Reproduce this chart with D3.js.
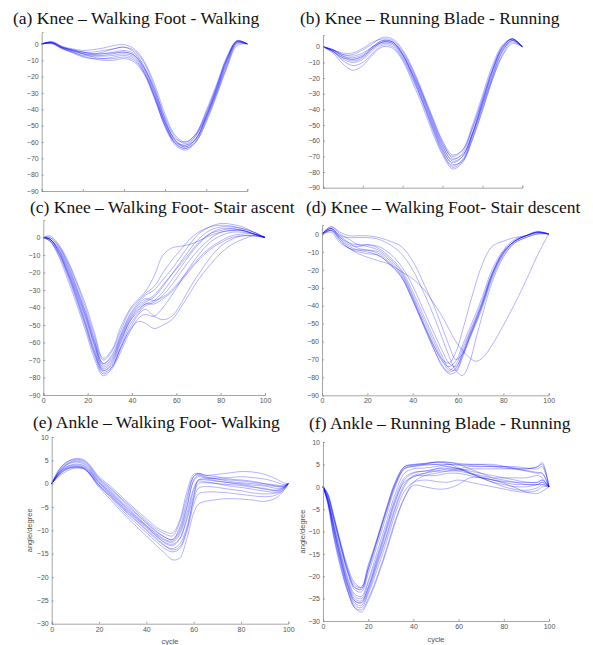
<!DOCTYPE html>
<html><head><meta charset="utf-8">
<script src="https://cdn.jsdelivr.net/npm/d3@7"></script>
<style>body{margin:0;background:#fff}svg{display:block}</style>
</head><body>
<svg id="chart" width="593" height="645"></svg>
<script>
// ---------- data ----------
const cycle5 = [0,5,10,15,20,25,30,35,40,45,50,55,60,65,70,75,80,85,90,95,100];
const cycleC = [0,3,7,11,15,19,23,27,31,35,39,43,46,50,54,58,62,66,70,75,80,85,90,95,100];
const cycleD = [0,4,8,12,16,20,25,30,35,40,45,50,53,56,59,62,65,68,71,75,80,85,90,95,100];
const cycleE = [0,3,6,10,14,20,25,30,35,40,45,48,51,54,57,60,62,65,70,75,80,85,90,95,98,100];
const cycleF = [0,2,5,8,11,14,17,20,24,28,32,36,40,45,50,55,60,65,70,75,80,85,90,95,97,100];

// (a) Knee – Walking Foot - Walking
const kneeWalkFootWalking = [
  [0,1.5,-1.5,-3,-4,-3.5,-2.5,-1,-0.5,-3,-11,-25,-43,-56,-60,-55,-41,-25,-8,2,0],
  [0,1,-2,-4,-5,-5,-4,-3,-2,-5,-14,-29,-47,-59,-62,-56,-43,-27,-10,1.5,0],
  [0,0.5,-2.5,-4.5,-6,-6.5,-6,-5,-4,-6,-15,-30,-48,-60,-63,-58,-45,-29,-12,1,0],
  [0,0.5,-3,-5,-7,-7.5,-7,-6,-5,-7,-16,-31,-49,-61,-64,-59,-46,-30,-13,0.5,0],
  [0,0,-3,-5.5,-8,-9,-9,-8,-7,-9,-18,-33,-51,-62,-65,-60,-47,-31,-14,0,0],
  [0,0.5,-2.5,-5,-7.5,-9,-10,-10,-9,-11,-19,-34,-50,-60,-62,-58,-45,-29,-11,1,0],
  [0,1,-2,-4,-6,-7,-7.5,-7,-6,-8,-17,-32,-48,-58,-60,-55,-42,-26,-9,1.5,0],
  [0,1,-2,-3.5,-5,-6,-6,-5.5,-5,-7,-15,-28,-45,-57,-61,-56,-44,-28,-10,2,0],
  [0,0.5,-2.5,-4,-6,-8,-9,-9,-8,-10,-18,-33,-50,-61,-64,-60,-48,-32,-15,-1,0],
  [0,1,-2,-3.5,-5,-6,-5,-3,-2,-4,-12,-27,-46,-59,-63,-58,-44,-27,-9,1.5,0]
];
// (b) Knee – Running Blade - Running
const kneeRunBladeRunning = [
  [0,-2,-5,-6,-4,0,3,2,-5,-17,-31,-47,-62,-70,-66,-50,-31,-12,1,5,0],
  [0,-2,-6,-8,-6,-1,3,2,-6,-18,-33,-49,-64,-72,-68,-52,-33,-14,0,5,0],
  [0,-3,-8,-10,-8,-2,2,1,-7,-20,-35,-51,-66,-74,-70,-55,-36,-17,-2,4,0],
  [0,-3,-9,-12,-10,-4,1,0,-8,-21,-36,-53,-68,-76,-72,-57,-38,-19,-3,4,0],
  [0,-4,-11,-15,-12,-5,0,-1,-9,-23,-38,-55,-69,-78,-74,-59,-41,-21,-5,3,0],
  [0,-2,-4,-4,-1,3,5,4,-3,-15,-30,-46,-61,-71,-69,-56,-38,-19,-3,4,0],
  [0,-2,-5,-5,-2,2,6,5,-2,-14,-29,-45,-60,-69,-66,-52,-34,-15,-1,5,0],
  [0,-3,-7,-9,-7,-1,3,3,-5,-18,-33,-50,-65,-75,-73,-59,-40,-21,-6,2,0],
  [0,-2,-6,-7,-5,0,4,3,-4,-16,-31,-48,-63,-73,-70,-55,-36,-16,-1,5,0],
  [0,-3,-7,-8,-6,0,4,3,-5,-19,-35,-52,-67,-77,-73,-56,-35,-15,0,5,0]
];
// (c) Knee – Walking Foot- Stair ascent
const kneeStairAscent = [
  [0,1,-4,-13,-25,-38,-54,-69,-64,-51,-41,-35,-31,-22,-10,-6,-5,-4,-2,1,3,4,4,2,0],
  [0,0,-5,-15,-28,-42,-58,-72,-67,-55,-44,-37,-33,-30,-24,-18,-11,-4,2,6,8,7.5,6,3,0],
  [0,-1,-7,-18,-31,-45,-61,-74,-70,-58,-47,-40,-37,-34,-28,-21,-14,-7,-1,4,6,6,5,3,0],
  [0,-1,-8,-20,-33,-48,-64,-76,-72,-60,-48,-41,-38,-36,-31,-24,-17,-10,-4,2,4,5,4,2,0],
  [0,-2,-10,-22,-36,-51,-67,-78,-74,-62,-50,-43,-39,-37,-33,-27,-20,-13,-7,-1,3,4,4,2,0],
  [0,-2,-11,-24,-38,-53,-69,-79,-75,-65,-54,-46,-44,-45,-40,-33,-25,-17,-10,-3,1,3,3,2,0],
  [0,-1,-9,-21,-35,-50,-66,-77,-74,-63,-53,-48,-49,-52,-50,-47,-40,-32,-24,-16,-9,-4,-1,1,0],
  [0,-1,-6,-16,-29,-43,-59,-72,-68,-56,-45,-38,-35,-36,-34,-30,-24,-18,-12,-6,-2,1,2,2,0],
  [0,0,-5,-14,-26,-40,-56,-70,-65,-53,-42,-36,-32,-28,-20,-13,-7,-1,3,6,7,6.5,5,3,0],
  [0,-2,-9,-20,-34,-49,-65,-76,-73,-63,-52,-44,-41,-45,-47,-45,-38,-29,-21,-12,-5,-1,1,1,0],
  [0,-1,-7,-17,-30,-44,-60,-73,-69,-57,-46,-39,-36,-33,-27,-21,-15,-9,-3,2,5,5,4,2,0],
  [0,-1,-8,-19,-32,-46,-62,-75,-71,-59,-48,-42,-38,-38,-35,-31,-25,-19,-13,-7,-3,0,1,1,0]
];
// (d) Knee – Walking Foot- Stair descent
const kneeStairDescent = [
  [0,3,-2,-6,-7,-6,-8,-13,-20,-32,-46,-60,-68,-75,-76,-68,-58,-49,-39,-24,-11,-4,-1,1,0],
  [0,4,0,-3,-6,-7,-9,-14,-21,-34,-48,-62,-70,-76,-73,-64,-55,-46,-36,-22,-10,-4,-1,1.5,0],
  [-1,2,-4,-8,-9,-9,-10,-15,-22,-35,-50,-64,-71,-74,-71,-62,-53,-44,-34,-20,-9,-3,-1,0.5,0],
  [0,3,-1,-5,-8,-9,-11,-16,-23,-36,-51,-66,-73,-78,-77,-69,-59,-50,-40,-25,-12,-5,-2,0,0],
  [0,2,-3,-7,-9,-10,-12,-17,-24,-37,-51,-64,-70,-72,-66,-54,-40,-27,-16,-7,-4,-2,-1,1,0],
  [0,4,1,-1,-1,-1,-2,-4,-7,-15,-28,-42,-52,-62,-70,-67,-58,-48,-38,-23,-10,-4,-1,1,0],
  [0,3,-1,-2,-2,-2,-3,-6,-11,-20,-33,-48,-58,-68,-76,-79,-72,-58,-44,-27,-13,-5,-2,0,0],
  [0,1,-5,-8,-11,-13,-15,-17,-21,-25,-31,-40,-46,-53,-60,-65,-69,-71,-69,-62,-51,-39,-26,-12,0],
  [0,3,-3,-8,-10,-11,-12,-17,-24,-37,-52,-66,-74,-77,-75,-66,-56,-47,-37,-22,-10,-4,-1,1,0],
  [0,2,-2,-5,-6,-6,-7,-11,-18,-29,-43,-57,-65,-72,-74,-67,-57,-48,-38,-23,-11,-4,-1,1,0]
];
// (e) Ankle – Walking Foot- Walking
const ankleWalkFootWalking = [
  [0,3,4.5,5.4,5,1.5,-0.6,-3,-5.3,-7.5,-9.6,-10.3,-10.6,-8,-2,2,2.2,1.8,1.5,1,0.8,0.5,0,-0.5,-0.5,0],
  [0,2.8,4.5,5.2,4.8,1.2,-1,-3.4,-5.6,-8,-10,-10.8,-11.2,-8.5,-3,1.5,2.2,1.8,2,2.3,2.6,2.5,2,1,0.2,0],
  [0,2.5,4,4.8,4.3,0.8,-1.5,-4,-6.2,-8.5,-10.6,-11.5,-12,-10,-5,0.5,1.5,1.2,1,0.8,0.6,0.3,0,-0.3,-0.5,0],
  [0,2.2,3.6,4.2,3.8,0.3,-2,-4.5,-6.8,-9,-11.2,-12.2,-12.6,-11,-6.5,-1,0.8,0.8,0.5,0.2,0,-0.3,-0.5,-1,-0.8,0],
  [0,2,3.3,3.8,3.4,0,-2.4,-5,-7.2,-9.4,-11.6,-12.8,-13.3,-12,-8,-2.5,0,0.2,0,-0.2,-0.4,-0.8,-1,-1.5,-1,0],
  [0,2.6,4.2,5,4.6,1,-1.2,-3.6,-6,-8.3,-10.5,-11.5,-12,-9.5,-4,1.5,2,1.5,1,0.5,0.2,0,-0.3,-0.6,-0.6,0],
  [0,1.8,3,3.5,3.1,-0.4,-2.8,-5.4,-7.7,-10,-12.3,-13.4,-13.9,-13,-9.5,-3.5,-1,-0.6,-0.8,-1.2,-1.5,-2,-2.2,-2,-1.4,0],
  [0,1.5,2.6,3.3,3,-0.8,-3.5,-6.3,-8.8,-11.2,-13.6,-15,-16.3,-16,-12,-6.3,-4.4,-3.8,-3.4,-3.2,-3.3,-3.5,-3.8,-3,-1.5,0],
  [0,2,3.2,3.6,3.2,-0.5,-3,-5.8,-8.2,-10.5,-12.8,-14,-14.6,-14,-10.5,-4.5,-2.2,-1.8,-1.8,-2,-2.3,-2.6,-2.8,-2.4,-1.2,0],
  [0,2.4,3.9,4.6,4.1,0.5,-1.8,-4.3,-6.6,-8.9,-11,-12,-12.3,-10.5,-5.5,0.8,1.8,1.3,1.2,1.3,1.5,1.3,1,0.3,-0.2,0],
  [0,2.2,3.5,4,3.6,0.2,-2.2,-4.8,-7,-9.2,-11.5,-12.6,-13,-11.8,-7.5,-1.5,0.5,0.4,0,-0.5,-0.8,-1.2,-1.6,-1.8,-1,0],
  [0,1.8,3,3.6,3.2,-0.3,-2.6,-5.2,-7.5,-9.8,-12,-13.3,-14.2,-13.6,-10,-3,0.8,1,0.6,0.2,-0.2,-0.6,-1.2,-1.4,-0.8,0]
];
// (f) Ankle – Running Blade - Running
const ankleRunBladeRunning = [
  [0,-1.5,-7,-13,-18.5,-22,-22.5,-18,-11.5,-5,1,4.5,4.9,5.2,5.5,5.5,5,4,3,2,1.5,1,0.5,0.5,0.5,0],
  [0,-2,-8,-14,-19.5,-23,-23.5,-19.5,-13,-6.5,0,4,4.5,4.8,5,5,4.8,4.7,4.6,4.5,4.5,4.2,4,4.5,5,0],
  [0,-2.5,-9,-15,-20.5,-24,-24.5,-21,-14.5,-8,-1.5,3,4,4.2,4.5,5,5,5,5,5,4.6,4,3.5,3,3,0],
  [0,-3,-10,-16.5,-22,-25.5,-26,-23,-17,-11,-4.5,0.5,2.5,3,3.5,4,4,3.5,3,2.5,2,1.5,1,1,1.5,0],
  [0,-1.5,-7.5,-13.5,-19,-22.5,-23,-18.5,-12,-5.5,0.5,4.3,4.8,5,5,4.5,4,3,2,1,0.5,0,0,0.5,1,0],
  [0,-3.5,-12,-18.5,-23.5,-27,-28,-25.5,-20.5,-14.5,-8,-2.5,1,2.5,3,3.5,4,4.5,4.5,4.5,4.2,4,4,4.5,5.4,0],
  [0,-2.5,-9,-15.5,-21,-24.5,-25,-21.5,-15.5,-9,-2.5,2,3.2,3.5,4,4,3.5,3,2.5,2,2,2,2,2.5,2,0],
  [0,-3,-11,-17.5,-23,-26.5,-27,-24,-18.5,-12.5,-6,-1,1,1.5,1.2,1,1.5,1,0.5,0,-0.5,-1,-1.2,-0.8,0,0],
  [0,-3.5,-11.5,-18,-23.5,-27,-27.5,-25,-20,-14,-7.5,-2.5,0.3,0,-0.5,-0.4,0.5,2,2,1.5,0.8,-0.2,-1.2,-1.5,-1,0],
  [0,-2,-7.5,-13.5,-19,-22.5,-22.8,-18.5,-12,-5.5,0.5,4,4.6,5,5.5,5.2,4.2,3.2,2.2,1.6,1.2,1,1,1,1.5,0],
  [0,-2.5,-9.5,-16,-21.5,-25,-25.5,-22.5,-16.5,-10,-3.5,1.5,3,3.5,3.5,3.5,3.6,4,4,4,4,4,3.6,3.2,3,0],
  [0,-3,-10.5,-17,-22.5,-26,-26.5,-23.5,-17.5,-11.5,-5,0,2.3,2.5,2.5,3,3,2.5,2,1.5,1,0.5,0.5,0.5,1,0],
  [0,-1.5,-7,-13,-18,-21.5,-22.4,-17.5,-11.6,-4.9,1.1,4.5,5,5.2,5.5,5.5,5.2,5,5,4.7,4.5,4.5,4.2,4,4.5,0],
  [0,-3,-10,-16.5,-22,-25.5,-25.8,-22.5,-16,-9.5,-3,1,2.2,3,4,4.5,4,3,2,1,0,-0.6,-0.8,-0.2,0.5,0]
];

const kneeTicks = [-90,-80,-70,-60,-50,-40,-30,-20,-10,0];
const ankleTicks = [-30,-25,-20,-15,-10,-5,0,5,10];
const cycleTicks = [0,20,40,60,80,100];
const titles = [
  "(a) Knee – Walking Foot - Walking",
  "(b) Knee – Running Blade - Running",
  "(c) Knee – Walking Foot- Stair ascent",
  "(d) Knee – Walking Foot- Stair descent",
  "(e) Ankle – Walking Foot- Walking",
  "(f) Ankle – Running Blade - Running"
];
const yAxisLabel = "angle/degree";
const xAxisLabel = "cycle";

// ---------- layout ----------
const panels = [
  {title:titles[0], xs:cycle5, data:kneeWalkFootWalking, tx:13, ty:24, px:[41.7,247.3], py:[191,32], dom:[-90,7.3], yt:kneeTicks, xLab:false},
  {title:titles[1], xs:cycle5, data:kneeRunBladeRunning, tx:300, ty:24, px:[323,522.3], py:[187.7,35], dom:[-90,7.5], yt:kneeTicks, xLab:false},
  {title:titles[2], xs:cycleC, data:kneeStairAscent, tx:30, ty:213, px:[43.3,265], py:[395,220], dom:[-90,10], yt:kneeTicks, xLab:true},
  {title:titles[3], xs:cycleD, data:kneeStairDescent, tx:306, ty:213, px:[322,548.7], py:[395.3,225], dom:[-90,5], yt:kneeTicks, xLab:true},
  {title:titles[4], xs:cycleE, data:ankleWalkFootWalking, tx:33, ty:428, px:[51.7,288.3], py:[623.7,437], dom:[-30,10], yt:ankleTicks, xLab:true, labels:{yx:32, cyX:170, cyY:644}},
  {title:titles[5], xs:cycleF, data:ankleRunBladeRunning, tx:309, ty:429, px:[323,549], py:[621,442], dom:[-30,10], yt:ankleTicks, xLab:true, labels:{yx:305, cyX:436, cyY:642}}
];

const svg = d3.select("#chart");
const axisColor = "#8f8f8f", textColor = "#555";

panels.forEach(p => {
  const g = svg.append("g");
  const x = d3.scaleLinear().domain([0,100]).range(p.px);
  const y = d3.scaleLinear().domain(p.dom).range(p.py);

  const line = d3.line()
    .x((d,i) => x(p.xs[i]))
    .y(d => y(d))
    .curve(d3.curveCatmullRom.alpha(0.5));

  g.append("g").selectAll("path").data(p.data).join("path")
    .attr("d", line)
    .attr("fill","none")
    .attr("stroke","#0000ff")
    .attr("stroke-opacity",0.6)
    .attr("stroke-width",0.5);

  const xAxis = d3.axisBottom(x).tickValues(cycleTicks).tickSize(-2).tickPadding(3)
    .tickFormat(p.xLab ? d3.format("d") : () => "");
  const yAxis = d3.axisLeft(y).tickValues(p.yt).tickSize(-2).tickPadding(3).tickFormat(d3.format("d"));

  const gx = g.append("g").attr("transform",`translate(0,${p.py[0]})`).call(xAxis);
  const gy = g.append("g").attr("transform",`translate(${p.px[0]},0)`).call(yAxis);
  [gx, gy].forEach(a => {
    a.select(".domain").attr("stroke",axisColor).attr("stroke-width",0.8);
    a.selectAll(".tick line").attr("stroke",axisColor).attr("stroke-width",0.8);
    a.selectAll(".tick text").attr("fill",textColor)
      .style("font-family","'Liberation Sans', Arial, sans-serif").style("font-size","7px");
  });

  if (p.labels) {
    const cy = (p.py[0] + p.py[1]) / 2;
    g.append("text").attr("transform",`translate(${p.labels.yx},${cy}) rotate(-90)`)
      .attr("text-anchor","middle").attr("fill",textColor)
      .style("font-family","'Liberation Sans', Arial, sans-serif").style("font-size","7.5px")
      .text(yAxisLabel);
    g.append("text").attr("x",p.labels.cyX).attr("y",p.labels.cyY)
      .attr("text-anchor","middle").attr("fill",textColor)
      .style("font-family","'Liberation Sans', Arial, sans-serif").style("font-size","7.5px")
      .text(xAxisLabel);
  }

  svg.append("text").attr("x",p.tx).attr("y",p.ty)
    .attr("fill","#111")
    .style("font-family","'Liberation Serif', 'Times New Roman', serif")
    .style("font-size","17.5px")
    .text(p.title);
});
</script>
</body></html>
